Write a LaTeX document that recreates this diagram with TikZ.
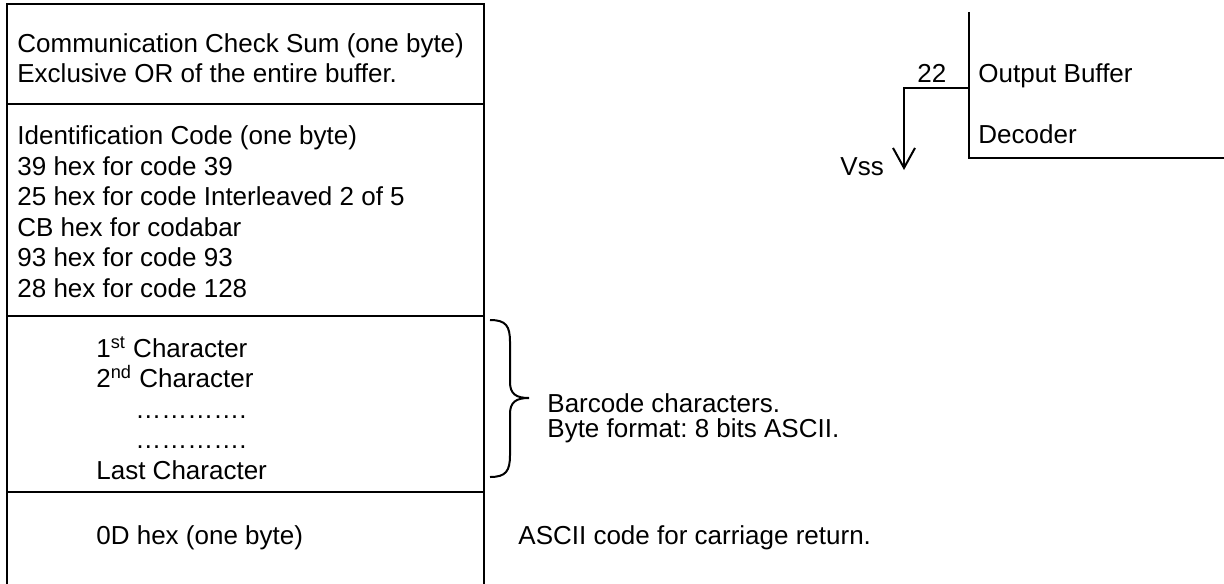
\documentclass[tikz,border=0pt]{standalone}
\usepackage{fontspec}
\setmainfont{Liberation Sans}
\frenchspacing
\usetikzlibrary{arrows.meta, positioning}

\begin{document}
\begin{tikzpicture}[
  x=0.5pt, y=-0.5pt,
  frame/.style={line width=1pt},
  txt/.style={anchor=base west, inner sep=0pt, align=left, font=\fontsize{13}{15.25}\selectfont},
  note/.style={txt, font=\fontsize{13}{12.5}\selectfont},
  arrow/.style={-{Straight Barb[length=10pt, width=11pt]}, line width=1pt}
]
\useasboundingbox (0,0) rectangle (1224,583);

% frame of the buffer
\draw[frame] (7,620) -- (7,4) -- (484,4) -- (484,620);
\draw[frame] (7,104) -- (484,104);
\draw[frame] (7,316) -- (484,316);
\draw[frame] (7,492) -- (484,492);

% multi-line nodes sit on their last line
\node[txt] (chk) at (17,83) {Communication Check Sum (one byte)\\Exclusive OR of the entire buffer.};
\node[txt] (idc) at (17,297) {Identification Code (one byte)\\39 hex for code 39\\25 hex for code Interleaved 2 of 5\\CB hex for codabar\\93 hex for code 93\\28 hex for code 128};
\node[txt] (chars) at (96,479) {1\textsuperscript{st} Character\\2\textsuperscript{nd} Character\\\hspace{19.5pt}………….\\\hspace{19.5pt}………….\\Last Character};
\node[txt] (crc) at (96,544) {0D hex (one byte)};

% notes to the right
\coordinate (bt) at (490,320);
\coordinate (bb) at (490,477);
\coordinate (tip) at (529,398);
\draw[frame] (bt) .. controls (506,320) and (510,326) .. (510,342) -- (510,382)
  .. controls (510,394) and (516,398) .. (tip)
  .. controls (516,398) and (510,402) .. (510,414) -- (510,455)
  .. controls (510,471) and (506,477) .. (bb);
\node[note] (bar) at (547,437) {Barcode characters.\\Byte format: 8 bits ASCII.};
\node[txt] (asc) at (518,544) {ASCII code for carriage return.};

% output pin
\draw[frame] (969,12) -- (969,158) -- (1224,158);
\coordinate (tap) at (969,88);
\coordinate (gnd) at (904,170);
\draw[arrow] (tap) -| (gnd);
\node[txt] (pin) at (917,83) {22};
\node[txt] (obuf) at (978,83) {Output Buffer};
\node[txt] (dec) at (978,143) {Decoder};
\node[txt] (vss) at (840,175) {Vss};
\end{tikzpicture}
\end{document}
